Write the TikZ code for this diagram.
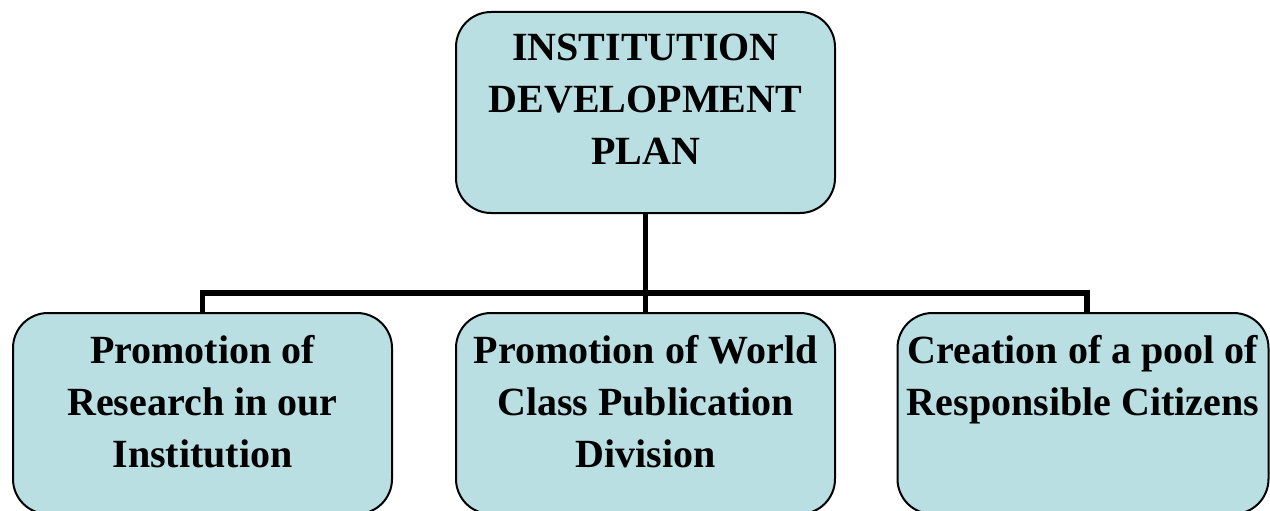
\documentclass[tikz,border=0pt]{standalone}
\usepackage{fontspec}
\setmainfont{Liberation Serif}
\definecolor{boxblue}{RGB}{185,223,227}
\tikzset{
	planbox/.style={draw, line width=1pt, fill=boxblue, rounded corners=17.5pt,
		minimum width=189.5pt, minimum height=100.5pt, inner sep=0pt,
		font=\bfseries\fontsize{20}{26}\selectfont},
	link/.style={line width=2.6pt},
}
\newcommand{\boxtxt}[2][185pt]{\parbox[t][78pt][t]{#1}{\centering #2}}
\begin{document}
\begin{tikzpicture}[x=0.5pt, y=0.5pt]
	\useasboundingbox (0,0) rectangle (1270,510);

	\node [planbox] (plan) at (645.5,397.5) {\boxtxt{INSTITUTION\\DEVELOPMENT\\PLAN}};

	\node [planbox] (research) at (202.5,96.5) {\boxtxt{Promotion of\\Research in our\\Institution}};
	\node [planbox] (publication) at (645.5,96.5) {\boxtxt{Promotion of World\\Class Publication\\Division}};
	\node [planbox, minimum width=185.5pt] (citizens) at (1083,96.5) {\boxtxt[182pt]{Creation of a pool of\\Responsible Citizens}};

	\coordinate (bus) at (645.5,217);

	% tree connectors
	\draw [link] (plan.south) -- (publication.north);
	\draw [link] (research.north) |- (bus) -| ([xshift=2pt]citizens.north);
\end{tikzpicture}
\end{document}
